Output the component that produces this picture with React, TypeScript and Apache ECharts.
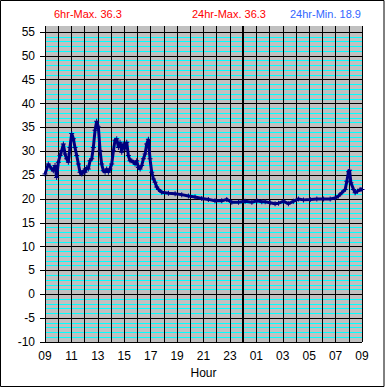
import React, { useEffect, useRef } from "react";
import * as echarts from "echarts";

// hours elapsed since 09:00
const hours = [
  0, 0.25, 0.51, 0.63, 0.76, 0.88, 1.01, 1.14, 1.26, 1.39, 1.52, 1.64, 1.77, 1.89,
  2.02, 2.15, 2.27, 2.4, 2.53, 2.65, 2.78, 2.9, 3.03, 3.16, 3.28, 3.41, 3.54, 3.66,
  3.79, 3.91, 4.04, 4.17, 4.29, 4.42, 4.55, 4.67, 4.8, 4.92, 5.05, 5.18, 5.3, 5.43,
  5.56, 5.68, 5.81, 5.93, 6.06, 6.19, 6.31, 6.44, 6.57, 6.69, 6.82, 6.94, 7.07, 7.2,
  7.32, 7.45, 7.58, 7.7, 7.83, 7.95, 8.08, 8.21, 8.33, 8.46, 8.59, 8.84, 9.35, 9.85,
  10.35, 10.86, 11.36, 11.87, 12.37, 12.87, 13.38, 13.76, 14.14, 14.65, 15.15, 15.66,
  16.04, 16.41, 16.67, 17.05, 17.42, 17.68, 18.06, 18.43, 18.81, 19.19, 19.57, 20.08,
  20.58, 21.09, 21.59, 21.97, 22.22, 22.47, 22.73, 22.85, 22.98, 23.06, 23.16, 23.36,
  23.48, 23.66, 23.86, 24,
];
const temps = [
  25.2, 27.3, 26.3, 25.9, 27.0, 24.5, 27.7, 29.1, 30.1, 31.5, 29.4, 28.4, 27.7, 30.8,
  33.7, 32.6, 30.8, 29.1, 27.3, 25.6, 25.2, 25.9, 25.6, 26.6, 26.3, 28.0, 28.4, 30.8,
  34.4, 36.3, 35.1, 30.1, 27.3, 25.9, 25.6, 26.3, 25.6, 26.3, 27.3, 30.1, 32.3, 32.6,
  30.8, 31.9, 29.8, 31.5, 30.5, 31.9, 29.1, 28.0, 28.0, 27.7, 27.3, 28.0, 26.6, 26.3,
  27.0, 28.4, 29.4, 31.5, 32.5, 28.4, 25.6, 24.2, 23.5, 22.5, 22.0, 21.4, 21.2, 21.1,
  20.9, 20.6, 20.4, 20.1, 19.9, 19.6, 19.6, 19.9, 19.3, 19.3, 19.5, 19.3,
  19.6, 19.4, 19.4, 19.2, 19.0, 19.1, 19.5, 19.0, 19.5, 20.0, 19.8, 19.9,
  20.0, 20.0, 20.0, 20.2, 20.6, 21.3, 22.0, 23.7, 25.7, 26.0, 23.4, 22.0,
  21.3, 21.6, 22.0, 22.0,
];
const statLabels = ["6hr-Max. 36.3", "24hr-Max. 36.3", "24hr-Min. 18.9"];
const statColors = ["#ff0000", "#ff0000", "#3366ff"];
const yMin = -10;
const yMax = 55;
const startHour = 9;
const midnight = 15;

const FONT = "'Liberation Sans', Arial, sans-serif";
const PLUS = "path://M2,0H3V2H5V3H3V5H2V3H0V2H2Z";

export default function App() {
  const ref = useRef<HTMLDivElement>(null);
  useEffect(() => {
    if (!ref.current) return;
    const chart = echarts.init(ref.current, undefined, { renderer: "svg" });
    const xCommon = {
      type: "value",
      min: 0,
      max: 24,
      interval: 2,
      splitLine: { show: true, lineStyle: { color: "#000", width: 1 } },
      minorSplitLine: { show: true, lineStyle: { color: "#000", width: 1 } },
      minorTick: { show: false, splitNumber: 2 },
    };
    chart.setOption({
      animation: false,
      backgroundColor: "#fff",
      textStyle: { fontFamily: FONT },
      title: statLabels.map((t, i) => ({
        text: t,
        left: [54, 192, 290][i],
        top: 8,
        padding: 0,
        textStyle: { fontSize: 11, fontWeight: "normal", color: statColors[i], fontFamily: FONT },
      })),
      graphic: [
        {
          type: "rect",
          shape: { x: 0.5, y: 0.5, width: 383.5, height: 386 },
          style: { fill: "none", stroke: "#000", lineWidth: 1 },
          silent: true,
        },
      ],
      grid: [
        { left: 45, right: 23, top: 32, bottom: 46, show: true, backgroundColor: "#c0c0c0", borderWidth: 0 },
        { left: 45, right: 23, top: 26, height: 6, show: true, backgroundColor: "#c0c0c0", borderWidth: 0 },
      ],
      xAxis: [
        {
          ...xCommon,
          gridIndex: 0,
          name: "Hour",
          nameLocation: "middle",
          nameGap: 25,
          nameTextStyle: { fontSize: 12, color: "#000", fontFamily: FONT },
          axisLine: { show: true, lineStyle: { color: "#000" } },
          axisTick: { show: true, length: 5, lineStyle: { color: "#000" } },
          axisLabel: {
            fontSize: 12,
            color: "#000",
            margin: 8,
            fontFamily: FONT,
            formatter: (v: number) => String((startHour + v) % 24).padStart(2, "0"),
          },
        },
        {
          ...xCommon,
          gridIndex: 1,
          axisLine: { show: false },
          axisTick: { show: false },
          axisLabel: { show: false },
        },
      ],
      yAxis: [
        {
          type: "value",
          gridIndex: 0,
          min: yMin,
          max: yMax,
          interval: 5,
          axisLine: { show: true, lineStyle: { color: "#000" } },
          axisTick: { show: true, length: 5, lineStyle: { color: "#000" } },
          axisLabel: { fontSize: 12, color: "#000", margin: 10, fontFamily: FONT },
          splitLine: { show: true, lineStyle: { color: "#000", width: 1 } },
          minorTick: { show: false, splitNumber: 5 },
          minorSplitLine: { show: true, lineStyle: { color: "#00ffff", width: 1 } },
        },
        {
          type: "value",
          gridIndex: 1,
          min: 0,
          max: 1,
          show: false,
          splitLine: { show: false },
        },
      ],
      series: [
        {
          type: "line",
          xAxisIndex: 0,
          yAxisIndex: 0,
          data: hours.map((h, i) => [h, temps[i]]),
          symbol: PLUS,
          symbolSize: 5,
          showSymbol: true,
          itemStyle: { color: "#000080" },
          lineStyle: { color: "#000080", width: 3 },
          z: 5,
          markLine: {
            silent: true,
            symbol: "none",
            label: { show: false },
            lineStyle: { color: "#000", width: 2, type: "solid" },
            data: [{ xAxis: midnight }],
          },
        },
        {
          type: "line",
          xAxisIndex: 1,
          yAxisIndex: 1,
          data: [],
          markLine: {
            silent: true,
            symbol: "none",
            label: { show: false },
            lineStyle: { color: "#000", width: 2, type: "solid" },
            data: [{ xAxis: midnight }],
          },
        },
      ],
    });
    return () => chart.dispose();
  }, []);
  return (
    <div
      ref={ref}
      style={{ position: "absolute", left: 0, top: 0, width: 385, height: 388 }}
    />
  );
}
